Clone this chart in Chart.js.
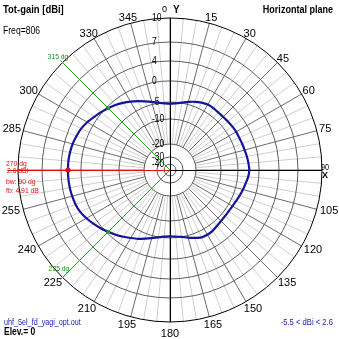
<!DOCTYPE html>
<html>
<head>
<meta charset="utf-8">
<script src="https://cdn.jsdelivr.net/npm/chart.js@4.4.0/dist/chart.umd.min.js"></script>
<style>
  html, body { margin: 0; padding: 0; background: #fff; }
  canvas { display: block; }
</style>
</head>
<body>
<canvas id="pattern" width="339" height="339"></canvas>
<script>
// azimuth in degrees, 5 degree steps, clockwise from Y
const angles = [];
for (let a = 0; a < 360; a += 5) angles.push(a);

// total gain (dBi) per azimuth
const gainDbi = [
  -5.5, -5.3, -4.9, -4.4, -3.9, -3.5, -3.2, -3.2, -3.3, -3.3, -3.2, -3.1,
  -3.0, -3.0, -2.9, -2.8, -2.6, -2.45, -2.31, -2.5, -2.9, -3.2, -3.5, -3.8,
  -4.0, -4.1, -4.1, -4.0, -3.8, -3.5, -3.4, -3.5, -4.0, -4.5, -5.0, -5.3,
  -5.5, -5.3, -4.9, -4.4, -3.8, -3.1, -2.5, -1.8, -1.1, -0.4, 0.3, 0.9,
  1.5, 2.0, 2.3, 2.45, 2.55, 2.6, 2.6, 2.6, 2.5, 2.35, 2.1, 1.8,
  1.3, 0.7, 0.2, -0.4, -1.0, -1.7, -2.4, -3.1, -3.8, -4.4, -4.9, -5.3
];

const ringDb = [10, 7, 4, 0, -5, -10, -20, -30, -40];
// 315 and 270 are covered by the marker captions
const angleTicks = [15, 30, 45, 60, 75, 105, 120, 135, 150, 165, 195, 210, 225, 240, 255, 285, 300, 330, 345];
const peakAngle = 270;
const backAngle = 90;
const bwAngles = [225, 315];
const fileName = 'uhf_5el_fd_yagi_opt.out';
const freq = 806;
const elevation = 0;

// compressed log scale used by the plot: ring value -> fraction of radius
const RING_R = [1, 0.842, 0.717, 0.586, 0.447, 0.336, 0.171, 0.086, 0.039];
function dbToR(db) {
  if (db >= ringDb[0]) return 1;
  for (let i = 1; i < ringDb.length; i++) {
    if (db >= ringDb[i]) {
      const t = (db - ringDb[i]) / (ringDb[i - 1] - ringDb[i]);
      return RING_R[i] + t * (RING_R[i - 1] - RING_R[i]);
    }
  }
  return RING_R[RING_R.length - 1];
}

const gainAt = a => gainDbi[angles.indexOf(a)];
const peak = gainAt(peakAngle);
const fb = peak - gainAt(backAngle);
const gMin = Math.min(...gainDbi);
const gMax = Math.max(...gainDbi);

const CX = 170, CY = 170, RAD = 152;
const SANS = '"Liberation Sans", Arial, sans-serif';

function txt(ctx, s, x, y, font, color, align, squeeze) {
  ctx.font = font;
  ctx.fillStyle = color;
  ctx.textAlign = align || 'left';
  ctx.textBaseline = 'middle';
  const w = ctx.measureText(s).width;
  ctx.fillText(s, x, y, squeeze ? w * squeeze : undefined);
}

const polarDecor = {
  id: 'polarDecor',
  beforeDraw(chart) {
    const ctx = chart.ctx, s = chart.scales.r;
    ctx.save();
    ctx.fillStyle = '#fff';
    ctx.fillRect(0, 0, chart.width, chart.height);
    // radial spokes every 5 degrees, starting at the -20 ring
    const r0 = dbToR(-20);
    angles.forEach((a, i) => {
      const p0 = s.getPointPositionForValue(i, r0);
      const p1 = s.getPointPositionForValue(i, 1);
      ctx.strokeStyle = a % 15 === 0 ? '#6c6c6c' : '#cfcfcf';
      ctx.lineWidth = 1;
      ctx.beginPath();
      ctx.moveTo(p0.x, p0.y);
      ctx.lineTo(p1.x, p1.y);
      ctx.stroke();
    });
    ctx.restore();
  },
  beforeDatasetsDraw(chart) {
    const ctx = chart.ctx, s = chart.scales.r;
    const xc = s.xCenter, yc = s.yCenter, R = s.drawingArea;
    ctx.save();
    ctx.lineWidth = 1;
    // axes
    ctx.strokeStyle = '#000';
    ctx.beginPath();
    ctx.moveTo(xc + 0.5, yc - R);
    ctx.lineTo(xc + 0.5, yc + R);
    ctx.moveTo(xc, yc + 0.5);
    ctx.lineTo(xc + R, yc + 0.5);
    ctx.stroke();
    // beamwidth lines
    ctx.strokeStyle = '#2c9c2c';
    bwAngles.forEach(a => {
      const p = s.getPointPositionForValue(angles.indexOf(a), 1.02);
      ctx.beginPath();
      ctx.moveTo(xc, yc);
      ctx.lineTo(p.x, p.y);
      ctx.stroke();
    });
    // main direction
    const pm = s.getPointPositionForValue(angles.indexOf(peakAngle), 1.07);
    ctx.strokeStyle = '#e01010';
    ctx.beginPath();
    ctx.moveTo(pm.x, yc + 0.5);
    ctx.lineTo(xc, yc + 0.5);
    ctx.stroke();
    // ring values along the Y axis
    ringDb.forEach(db => {
      const y = yc - s.getDistanceFromCenterForValue(dbToR(db));
      txt(ctx, String(db), xc - 18, y, '10px ' + SANS, '#000', 'left', 0.85);
    });
    ctx.restore();
  },
  afterDraw(chart) {
    const ctx = chart.ctx, s = chart.scales.r;
    const xc = s.xCenter, yc = s.yCenter, R = s.drawingArea;
    ctx.save();
    const lab = '11px ' + SANS;
    ctx.font = lab;
    angleTicks.forEach(a => {
      const th = a * Math.PI / 180;
      const w = ctx.measureText(String(a)).width;
      const pad = 1 + 2 * (1 - Math.cos(th));
      const p = s.getPointPositionForValue(angles.indexOf(a), (R + pad) / R);
      txt(ctx, String(a), p.x + w / 2 * Math.sin(th), p.y - 4 * Math.cos(th), lab, '#000', 'center');
    });
    const small = '9px ' + SANS;
    txt(ctx, '0', xc - 3, yc - R - 8, small, '#000', 'right');
    txt(ctx, 'Y', xc + 3, yc - R - 8, 'bold 10px ' + SANS, '#000', 'left');
    txt(ctx, '90', xc + R + 3, yc - 2, small, '#000', 'center', 0.8);
    txt(ctx, 'X', xc + R + 3, yc + 6, 'bold 9px ' + SANS, '#000', 'center');
    txt(ctx, '180', xc, yc + R + 12, lab, '#000', 'center');

    // beamwidth / peak annotations
    const green = '#1e8e1e';
    const ann = '8px ' + SANS;
    txt(ctx, bwAngles[1] + ' dg', 58, 57, ann, green, 'center', 0.85);
    txt(ctx, bwAngles[0] + ' dg', 59, 269, ann, green, 'center', 0.85);
    const red = '#e01010';
    txt(ctx, peakAngle + ' dg', 6, 163.5, ann, red, 'left', 0.85);
    txt(ctx, peak.toFixed(1) + ' dBi', 7, 171, ann, red, 'left', 0.85);
    txt(ctx, 'bw: ' + (bwAngles[1] - bwAngles[0]) + ' dg', 6, 181.5, ann, red, 'left', 0.85);
    txt(ctx, 'fb: ' + fb.toFixed(2) + ' dB', 6, 190.5, ann, red, 'left', 0.85);

    // header and footer
    txt(ctx, 'Tot-gain [dBi]', 3, 10, 'bold 11px ' + SANS, '#000', 'left', 0.86);
    txt(ctx, 'Freq=' + freq, 3, 31.5, '10px ' + SANS, '#000', 'left', 0.86);
    txt(ctx, 'Horizontal plane', 333, 10, 'bold 11px ' + SANS, '#000', 'right', 0.82);
    const blue = '#2020b8';
    txt(ctx, fileName, 4, 322.5, '9px ' + SANS, blue, 'left', 0.8);
    txt(ctx, 'Elev.= ' + elevation, 4, 332.5, 'bold 10px ' + SANS, '#000', 'left', 0.85);
    txt(ctx, gMin.toFixed(1) + ' < dBi < ' + gMax.toFixed(1), 333, 322.5, '9px ' + SANS, blue, 'right', 0.85);
    ctx.restore();
  }
};

new Chart(document.getElementById('pattern'), {
  type: 'radar',
  data: {
    labels: angles.map(String),
    datasets: [
      {
        // maximum gain marker
        data: angles.map((a, i) => a === peakAngle ? dbToR(gainDbi[i]) : null),
        showLine: false,
        borderWidth: 0,
        pointRadius: 2.6,
        pointBorderWidth: 0,
        pointBackgroundColor: '#e01010'
      },
      {
        // -3 dB points
        data: angles.map((a, i) => bwAngles.includes(a) ? dbToR(gainDbi[i]) : null),
        showLine: false,
        borderWidth: 0,
        pointStyle: 'rect',
        pointRadius: 2.4,
        pointBorderWidth: 0,
        pointBackgroundColor: '#18a018'
      },
      {
        data: gainDbi.map(dbToR),
        borderColor: '#14149b',
        borderWidth: 2.2,
        pointRadius: 0,
        fill: false,
        tension: 0.2
      }
    ]
  },
  options: {
    responsive: false,
    animation: false,
    events: [],
    layout: { padding: 0 },
    plugins: { legend: { display: false }, tooltip: { enabled: false } },
    scales: {
      r: {
        min: 0,
        max: 1,
        startAngle: 0,
        afterBuildTicks: sc => {
          sc.ticks = [0].concat(RING_R.slice().reverse()).map(v => ({ value: v }));
        },
        afterFit: sc => {
          sc.xCenter = CX;
          sc.yCenter = CY;
          sc.drawingArea = RAD;
        },
        ticks: { display: false },
        pointLabels: { display: false },
        angleLines: { display: false },
        grid: {
          circular: true,
          lineWidth: 1,
          color: c => (c.tick && c.tick.value >= 0.999 ? '#000' : '#5e5e5e')
        }
      }
    }
  },
  plugins: [polarDecor]
});
</script>
</body>
</html>
